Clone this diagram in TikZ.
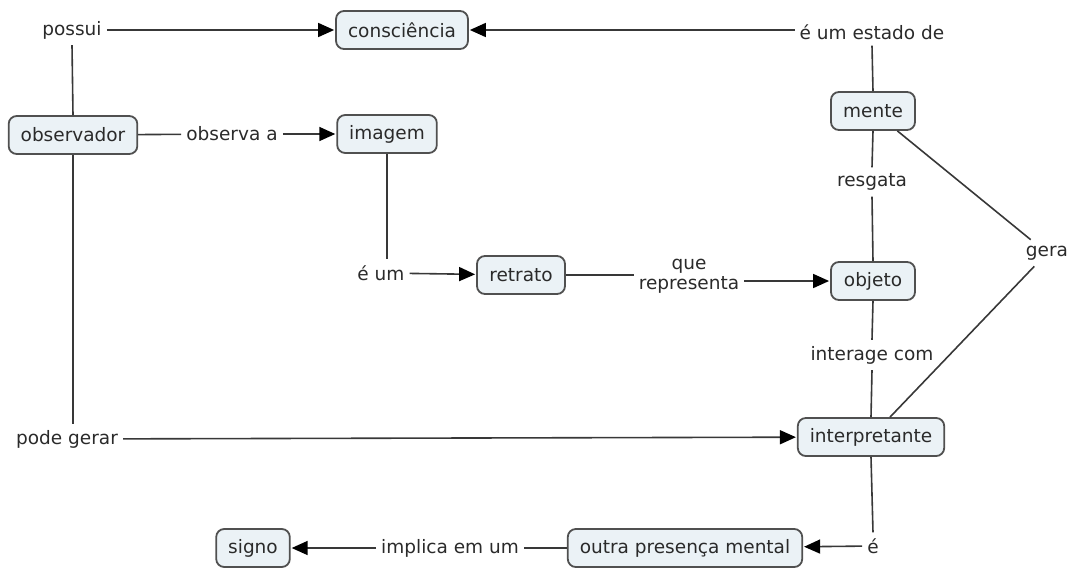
\documentclass[tikz,border=0pt]{standalone}
\usepackage{fontspec}
\setmainfont{DejaVu Sans}
\usetikzlibrary{arrows.meta}
\definecolor{boxfill}{HTML}{EBF2F6}
\definecolor{boxdraw}{HTML}{505050}
\definecolor{txt}{HTML}{2A2A2A}
\definecolor{conn}{HTML}{383838}
\tikzset{
  concept/.style={draw=boxdraw, line width=1.8pt, fill=boxfill, rounded corners=8pt,
    minimum height=38pt, inner xsep=12pt, text=txt, font=\fontsize{18.5}{22}\selectfont},
  linklabel/.style={inner xsep=5pt, inner ysep=6pt, text=txt, font=\fontsize{18.5}{22}\selectfont, align=center},
  conline/.style={draw=conn, line width=1.6pt},
  conarrow/.style={conline, -{Triangle[length=16pt,width=14pt,color=black]}, shorten >=1pt}
}
\begin{document}
\begin{tikzpicture}[x=1pt,y=-1pt]
\useasboundingbox (0,0) rectangle (1077,568);
% concepts
\node[concept, minimum width=131pt] (consc) at (402,30) {consciência};
\node[concept, minimum width=84pt] (mente) at (873,111) {mente};
\node[concept, minimum width=126pt] (obs) at (73,135) {observador};
\node[concept, minimum width=98pt] (imagem) at (387,134) {imagem};
\node[concept, minimum width=88pt] (retrato) at (521,275) {retrato};
\node[concept, minimum width=84pt] (objeto) at (873,281) {objeto};
\node[concept, minimum width=145pt] (interp) at (871,437) {interpretante};
\node[concept, minimum width=230pt] (outra) at (685,548) {outra presença mental};
\node[concept, minimum width=73pt] (signo) at (253,548) {signo};
% link labels
\node[linklabel] (possui) at (72,30) {possui};
\node[linklabel] (estado) at (872,32) {é um estado de};
\node[linklabel] (observa) at (232,134) {observa a};
\node[linklabel] (resgata) at (872,182) {resgata};
\node[linklabel] (gera) at (1047,253) {gera};
\node[linklabel] (eum) at (381,273) {é um};
\node[linklabel, inner ysep=3pt] (querep) at (689,276) {que\\[-2pt]representa};
\node[linklabel] (interage) at (872,355) {interage com};
\node[linklabel] (pode) at (67,439) {pode gerar};
\node[linklabel] (e) at (873,546) {é};
\node[linklabel] (implica) at (450,548) {implica em um};
% connectors
\draw[conline] (obs.north) -- (possui.south);
\draw[conarrow] (possui) -- (consc);
\draw[conline] (mente.north) -- (estado.south);
\draw[conarrow] (estado.west |- consc.east) -- (consc.east);
\draw[conline] (obs) -- (observa);
\draw[conarrow] (observa) -- (imagem);
\draw[conline] (imagem.south) -- (imagem.south |- eum.north);
\draw[conarrow] (eum) -- (retrato);
\draw[conline] (retrato) -- (querep.west |- retrato.east);
\draw[conarrow] (querep.east |- objeto.west) -- (objeto);
\draw[conline] (mente.south) -- (resgata.north);
\draw[conline] (resgata.south) -- (objeto.north);
\draw[conline] (mente) -- (gera);
\draw[conline] (gera) -- (interp);
\draw[conline] (objeto.south) -- (interage.north);
\draw[conline] (interage.south) -- (interp.north);
\draw[conline] (obs.south) -- (pode.north -| obs.south);
\draw[conarrow] (pode) -- (interp);
\draw[conline] (interp.south) -- (e.north);
\draw[conarrow] (e) -- (outra);
\draw[conline] (outra) -- (implica);
\draw[conarrow] (implica) -- (signo);
\end{tikzpicture}
\end{document}
